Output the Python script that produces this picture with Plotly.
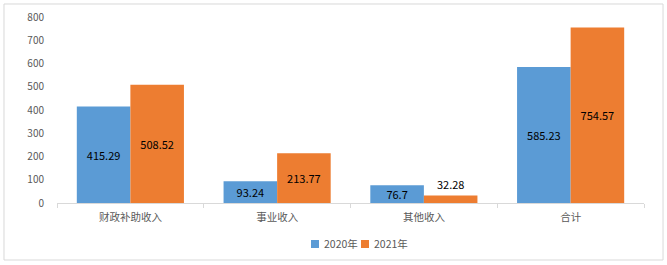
import plotly.graph_objects as go

categories = ["财政补助收入", "事业收入", "其他收入", "合计"]
values_2020 = [415.29, 93.24, 76.7, 585.23]
values_2021 = [508.52, 213.77, 32.28, 754.57]
series_names = ["2020年", "2021年"]
series_colors = ["#5B9BD5", "#ED7D31"]
y_ticks = [0, 100, 200, 300, 400, 500, 600, 700, 800]

FONT = "Noto Sans CJK SC, Microsoft YaHei, sans-serif"

def positions(vals):
    return ["inside" if v > 60 else "outside" for v in vals]

fig = go.Figure()
for name, vals, col in zip(series_names, [values_2020, values_2021], series_colors):
    fig.add_trace(go.Bar(
        x=categories, y=vals, name=name,
        marker=dict(color=col, line=dict(width=0)),
        text=[str(v) for v in vals], textposition=positions(vals),
        insidetextanchor="middle", textangle=0, cliponaxis=False, constraintext="none",
        textfont=dict(color="#000000", size=11, family=FONT),
    ))

# compact legend (Excel style): small squares next to labels
legend_x = [0.4327, 0.5179]
shapes = [dict(type="rect", xref="paper", yref="paper",
               x0=-0.0903, x1=1.0324, y0=-0.3065, y1=1.0699,
               line=dict(color="#d9d9d9", width=1), fillcolor="rgba(0,0,0,0)")]
annotations = []
for lx, name, col in zip(legend_x, series_names, series_colors):
    shapes.append(dict(type="rect", xref="paper", yref="paper",
                       x0=lx, x1=lx + 0.0136, y0=-0.2419, y1=-0.1989,
                       line=dict(width=0), fillcolor=col))
    annotations.append(dict(xref="paper", yref="paper", x=lx + 0.0187, y=-0.2204,
                            xanchor="left", yanchor="middle", text=name, showarrow=False,
                            font=dict(size=10.5, color="#595959", family=FONT)))

fig.update_layout(
    width=667, height=265,
    margin=dict(l=57, r=23, t=17, b=62, autoexpand=False),
    paper_bgcolor="white", plot_bgcolor="white",
    barmode="group", bargap=0.27, bargroupgap=0,
    font=dict(family=FONT, color="#595959", size=10),
    showlegend=False,
    xaxis=dict(showline=True, linecolor="#d9d9d9", linewidth=1,
               ticks="outside", tickson="boundaries", ticklen=4, tickcolor="#d9d9d9",
               showgrid=False, tickfont=dict(size=10.5, color="#595959"),
               ticklabelstandoff=4, automargin=False),
    yaxis=dict(range=[0, 800], tickvals=y_ticks, showgrid=False, zeroline=False,
               showline=False, ticks="", tickfont=dict(size=10, color="#595959"),
               ticklabelstandoff=12, automargin=False),
    shapes=shapes,
    annotations=annotations,
)

fig.write_html("out.html")
